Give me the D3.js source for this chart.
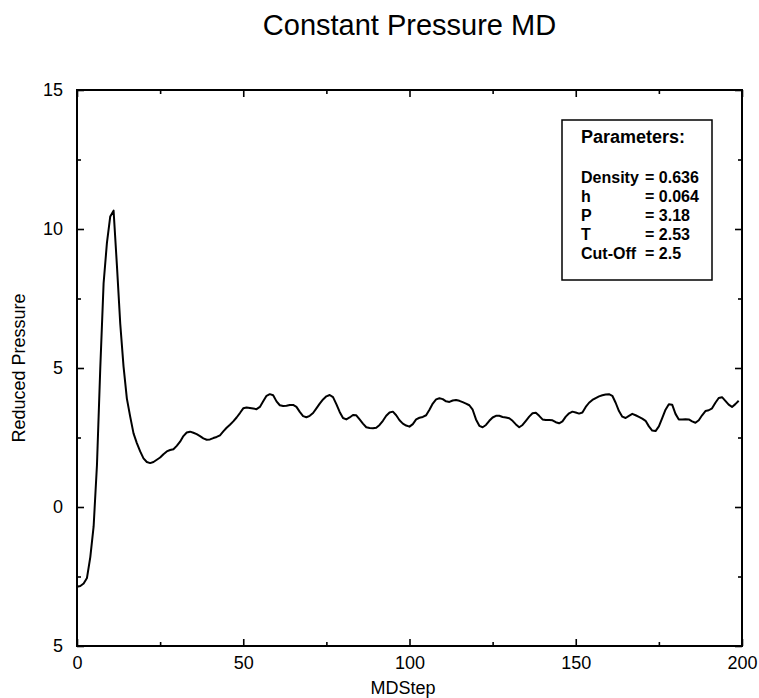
<!DOCTYPE html>
<html>
<head>
<meta charset="utf-8">
<script src="https://cdn.jsdelivr.net/npm/d3@7"></script>
<style>
  html, body { margin: 0; padding: 0; background: #fff; }
  svg { display: block; font-family: "Liberation Sans", Arial, Helvetica, sans-serif; }
  .axis path.domain { display: none; }
  .axis line { stroke: #000; stroke-width: 1.6; }
  .axis text { font-size: 18px; fill: #000; }
  .frame { fill: none; stroke: #000; stroke-width: 2; }
  .curve { fill: none; stroke: #000; stroke-width: 2; stroke-linejoin: round; }
  .param-box { fill: #fff; stroke: #000; stroke-width: 1.5; }
  .param-text { font-size: 16px; font-weight: bold; fill: #000; }
</style>
</head>
<body>
<div id="chart"></div>
<script>
// reduced pressure, one value per MD step (0..199)
const pressure = [
  -2.87, -2.84, -2.75, -2.55, -1.8, -0.7, 1.5, 5.0, 8.05, 9.5,
  10.45, 10.66, 8.7, 6.6, 5.05, 3.9, 3.25, 2.65, 2.3, 2.0,
  1.75, 1.62, 1.58, 1.62, 1.7, 1.78, 1.9, 2.0, 2.05, 2.08,
  2.2, 2.35, 2.55, 2.68, 2.71, 2.67, 2.62, 2.55, 2.47, 2.42,
  2.43, 2.48, 2.52, 2.58, 2.72, 2.85, 2.96, 3.08, 3.22, 3.38,
  3.55, 3.58, 3.56, 3.54, 3.52, 3.6, 3.8, 4.0, 4.06, 4.02,
  3.8, 3.66, 3.63, 3.64, 3.67, 3.67, 3.6, 3.42, 3.27, 3.23,
  3.28, 3.38, 3.55, 3.72, 3.87, 3.98, 4.03, 3.95, 3.7, 3.42,
  3.2, 3.15, 3.22, 3.31, 3.3, 3.15, 3.0, 2.87, 2.84, 2.83,
  2.85, 2.95, 3.1, 3.28, 3.4, 3.43, 3.3, 3.12, 3.0, 2.93,
  2.89, 2.98, 3.15, 3.21, 3.24, 3.3, 3.5, 3.72, 3.87, 3.91,
  3.88, 3.8, 3.78, 3.83, 3.85, 3.82, 3.77, 3.72, 3.66, 3.5,
  3.15, 2.92, 2.87, 2.95, 3.1, 3.22, 3.28, 3.28, 3.24, 3.22,
  3.19, 3.1, 2.97, 2.87, 2.95, 3.1, 3.25, 3.37, 3.39, 3.28,
  3.15, 3.13, 3.13, 3.12, 3.05, 3.01, 3.08, 3.25, 3.37, 3.43,
  3.4, 3.36, 3.4, 3.6, 3.75, 3.85, 3.92, 3.98, 4.02, 4.05,
  4.06, 4.0, 3.75, 3.45, 3.25, 3.2, 3.28, 3.35, 3.3, 3.24,
  3.18, 3.1, 2.9, 2.75, 2.73, 2.9, 3.2, 3.5, 3.7, 3.68,
  3.35, 3.15, 3.15, 3.16, 3.15, 3.08, 3.03, 3.12, 3.3, 3.45,
  3.48, 3.55, 3.75, 3.92, 3.95, 3.82, 3.68, 3.6, 3.7, 3.82
];

const xMajorTicks = [0, 50, 100, 150, 200];
const xMinorTicks = [25, 75, 125, 175];
const yMajorTicks = [-5, 0, 5, 10, 15];
const yMajorLabels = ["5", "0", "5", "10", "15"]; // as printed (no minus sign)
const yMinorTicks = [-2.5, 2.5, 7.5, 12.5];

const paramLabels = ["Density", "h", "P", "T", "Cut-Off"];
const paramValues = ["= 0.636", "= 0.064", "= 3.18", "= 2.53", "= 2.5"];

const W = 759, H = 698;
const margin = { top: 90, right: 17, bottom: 52, left: 77 };
const width = W - margin.left - margin.right;
const height = H - margin.top - margin.bottom;

const svg = d3.select("#chart").append("svg")
  .attr("width", W)
  .attr("height", H);

const g = svg.append("g")
  .attr("transform", `translate(${margin.left},${margin.top})`);

const x = d3.scaleLinear().domain([0, 200]).range([0, width]);
const y = d3.scaleLinear().domain([-5, 15]).range([height, 0]);

// ---------- axes (ticks point inward on all sides) ----------
g.append("g")
  .attr("class", "axis")
  .attr("transform", `translate(0,${height})`)
  .call(d3.axisBottom(x).tickValues(xMajorTicks).tickSize(-7).tickPadding(10));

g.append("g")
  .attr("class", "axis")
  .attr("transform", `translate(0,${height})`)
  .call(d3.axisBottom(x).tickValues(xMinorTicks).tickSize(-4).tickFormat(""));

g.append("g")
  .attr("class", "axis")
  .call(d3.axisTop(x).tickValues(xMajorTicks).tickSize(-7).tickFormat(""));

g.append("g")
  .attr("class", "axis")
  .call(d3.axisTop(x).tickValues(xMinorTicks).tickSize(-4).tickFormat(""));

g.append("g")
  .attr("class", "axis")
  .call(d3.axisLeft(y).tickValues(yMajorTicks).tickSize(-7).tickPadding(14)
    .tickFormat((d, i) => yMajorLabels[i]));

g.append("g")
  .attr("class", "axis")
  .call(d3.axisLeft(y).tickValues(yMinorTicks).tickSize(-4).tickFormat(""));

g.append("g")
  .attr("class", "axis")
  .attr("transform", `translate(${width},0)`)
  .call(d3.axisRight(y).tickValues(yMajorTicks).tickSize(-7).tickFormat(""));

g.append("g")
  .attr("class", "axis")
  .attr("transform", `translate(${width},0)`)
  .call(d3.axisRight(y).tickValues(yMinorTicks).tickSize(-4).tickFormat(""));

g.append("rect")
  .attr("class", "frame")
  .attr("width", width)
  .attr("height", height);

// ---------- curve ----------
const line = d3.line()
  .x((d, i) => x(i))
  .y((d) => y(d));

g.append("path")
  .datum(pressure)
  .attr("class", "curve")
  .attr("d", line);

// ---------- parameter box ----------
const box = svg.append("g").attr("transform", "translate(562,120)");

box.append("rect")
  .attr("class", "param-box")
  .attr("width", 150)
  .attr("height", 160);

box.append("text")
  .attr("class", "param-text")
  .attr("x", 19)
  .attr("y", 23)
  .style("font-size", "18px")
  .text("Parameters:");

const rows = box.selectAll(".param-row")
  .data(paramLabels)
  .join("g")
  .attr("class", "param-row")
  .attr("transform", (d, i) => `translate(0,${63 + i * 19})`);

rows.append("text")
  .attr("class", "param-text")
  .attr("x", 19)
  .text((d) => d);

rows.append("text")
  .attr("class", "param-text")
  .attr("x", 83)
  .text((d, i) => paramValues[i]);

// ---------- titles ----------
svg.append("text")
  .attr("x", margin.left + width / 2)
  .attr("y", 35)
  .attr("text-anchor", "middle")
  .style("font-size", "29px")
  .text("Constant Pressure MD");

svg.append("text")
  .attr("x", 403)
  .attr("y", 694)
  .attr("text-anchor", "middle")
  .style("font-size", "18px")
  .text("MDStep");

svg.append("text")
  .attr("transform", "translate(25,368) rotate(-90)")
  .attr("text-anchor", "middle")
  .style("font-size", "18px")
  .text("Reduced Pressure");
</script>
</body>
</html>
